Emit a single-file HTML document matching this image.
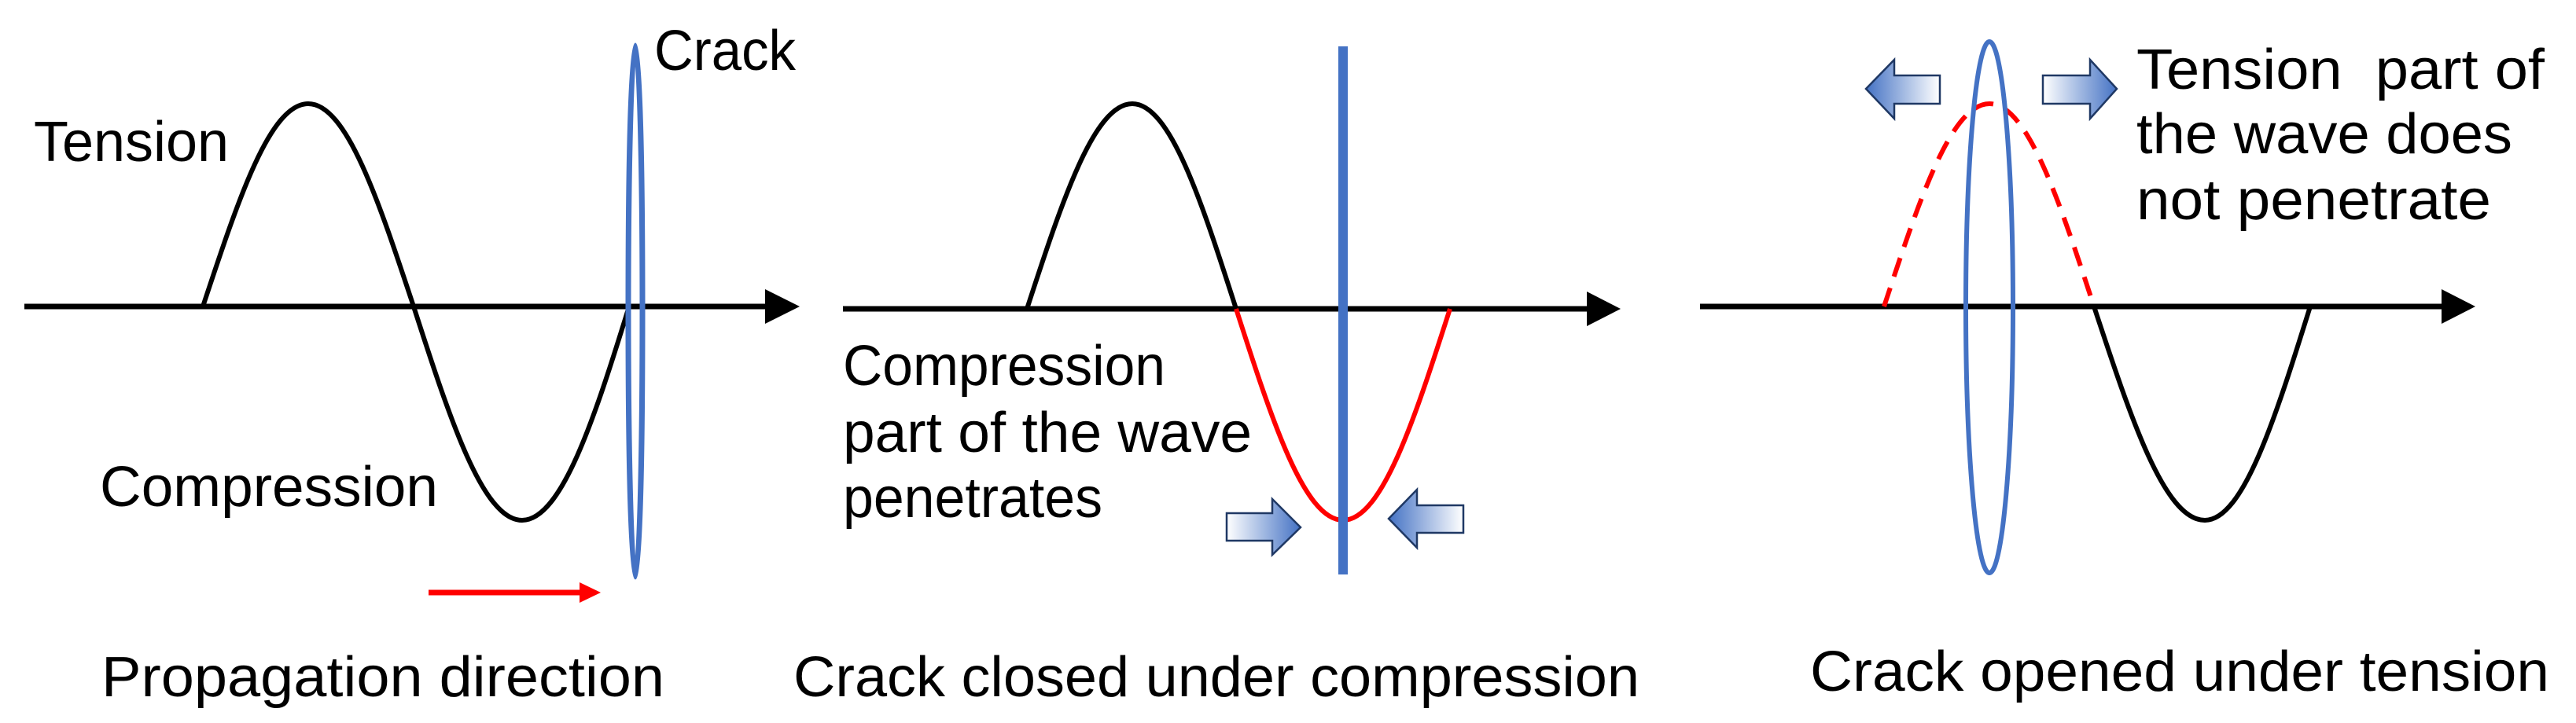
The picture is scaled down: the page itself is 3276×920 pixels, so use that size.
<!DOCTYPE html>
<html><head><meta charset="utf-8"><style>html,body{margin:0;padding:0;background:#fff}svg{display:block}</style></head>
<body>
<svg width="3276" height="920" viewBox="0 0 3276 920" xmlns="http://www.w3.org/2000/svg" font-family="Liberation Sans, sans-serif" font-size="72">
<defs>
<linearGradient id="gr" x1="0" y1="0" x2="1" y2="0"><stop offset="0" stop-color="#ffffff"/><stop offset="1" stop-color="#4472C4"/></linearGradient>
<linearGradient id="gl" x1="1" y1="0" x2="0" y2="0"><stop offset="0" stop-color="#ffffff"/><stop offset="1" stop-color="#4472C4"/></linearGradient>
</defs>
<!-- Panel 1 -->
<line x1="31" y1="390" x2="975" y2="390" stroke="#000" stroke-width="7"/>
<polygon points="973,368 1017,390 973,412" fill="#000"/>
<path d="M258 390 C302.7 255 343 132 392 132 C440.7 132 481.3 255 526 390 C572 532.5 613.9 662 664 662 C714.1 662 756 532.5 800 390" fill="none" stroke="#000" stroke-width="6"/>
<ellipse cx="808" cy="396" rx="9" ry="338" fill="none" stroke="#4472C4" stroke-width="7"/>
<text x="832" y="89" textLength="180" lengthAdjust="spacingAndGlyphs">Crack</text>
<text x="43" y="205" textLength="248" lengthAdjust="spacingAndGlyphs">Tension</text>
<text x="127" y="644" textLength="430" lengthAdjust="spacingAndGlyphs">Compression</text>
<line x1="545" y1="754" x2="740" y2="754" stroke="#f00" stroke-width="7"/>
<polygon points="737,741 764,754 737,767" fill="#f00"/>
<text x="129" y="886" textLength="716" lengthAdjust="spacingAndGlyphs">Propagation direction</text>
<!-- Panel 2 -->
<line x1="1072" y1="393" x2="2020" y2="393" stroke="#000" stroke-width="7"/>
<polygon points="2018,371 2061,393 2018,415" fill="#000"/>
<path d="M1306 393 C1350.6 256.2 1391.3 132 1440 132 C1488 132 1528 256.2 1572 393" fill="none" stroke="#000" stroke-width="6"/>
<path d="M1572 393 C1617.3 534 1658.6 662 1708 662 C1757.4 662 1798.7 534 1844 393" fill="none" stroke="#f00" stroke-width="6"/>
<line x1="1708" y1="59" x2="1708" y2="731" stroke="#4472C4" stroke-width="12"/>
<text x="1072" y="490" textLength="410" lengthAdjust="spacingAndGlyphs">Compression</text>
<text x="1072" y="575" textLength="520" lengthAdjust="spacingAndGlyphs">part of the wave</text>
<text x="1072" y="658" textLength="330" lengthAdjust="spacingAndGlyphs">penetrates</text>
<polygon points="1560,653 1618,653 1618,635 1654,671 1618,706 1618,688 1560,688" fill="url(#gr)" stroke="#1F3864" stroke-width="2.5"/>
<polygon points="1861,643 1802,643 1802,623 1766,660 1802,697 1802,678 1861,678" fill="url(#gl)" stroke="#1F3864" stroke-width="2.5"/>
<text x="1009" y="886" textLength="1076" lengthAdjust="spacingAndGlyphs">Crack closed under compression</text>
<!-- Panel 3 -->
<line x1="2162" y1="390" x2="3107" y2="390" stroke="#000" stroke-width="7"/>
<polygon points="3105,368 3148,390 3105,412" fill="#000"/>
<path d="M2396 390 C2440.6 255 2481.3 132 2530 132 C2578.3 132 2618.7 255 2663 390" fill="none" stroke="#f00" stroke-width="6" stroke-dasharray="25,15"/>
<path d="M2663 390 C2710 532.5 2752.8 662 2804 662 C2852.8 662 2893.4 532.5 2938 390" fill="none" stroke="#000" stroke-width="6"/>
<ellipse cx="2530" cy="391" rx="30" ry="338" fill="none" stroke="#4472C4" stroke-width="6"/>
<polygon points="2467,96 2409,96 2409,76 2373,113 2409,151 2409,132 2467,132" fill="url(#gl)" stroke="#1F3864" stroke-width="2.5"/>
<polygon points="2598,96 2658,96 2658,76 2692,113 2658,151 2658,132 2598,132" fill="url(#gr)" stroke="#1F3864" stroke-width="2.5"/>
<text x="2717" y="113" textLength="519" lengthAdjust="spacingAndGlyphs" xml:space="preserve">Tension  part of</text>
<text x="2717" y="195" textLength="478" lengthAdjust="spacingAndGlyphs">the wave does</text>
<text x="2717" y="279" textLength="451" lengthAdjust="spacingAndGlyphs">not penetrate</text>
<text x="2302" y="879" textLength="940" lengthAdjust="spacingAndGlyphs">Crack opened under tension</text>
</svg>
</body></html>
